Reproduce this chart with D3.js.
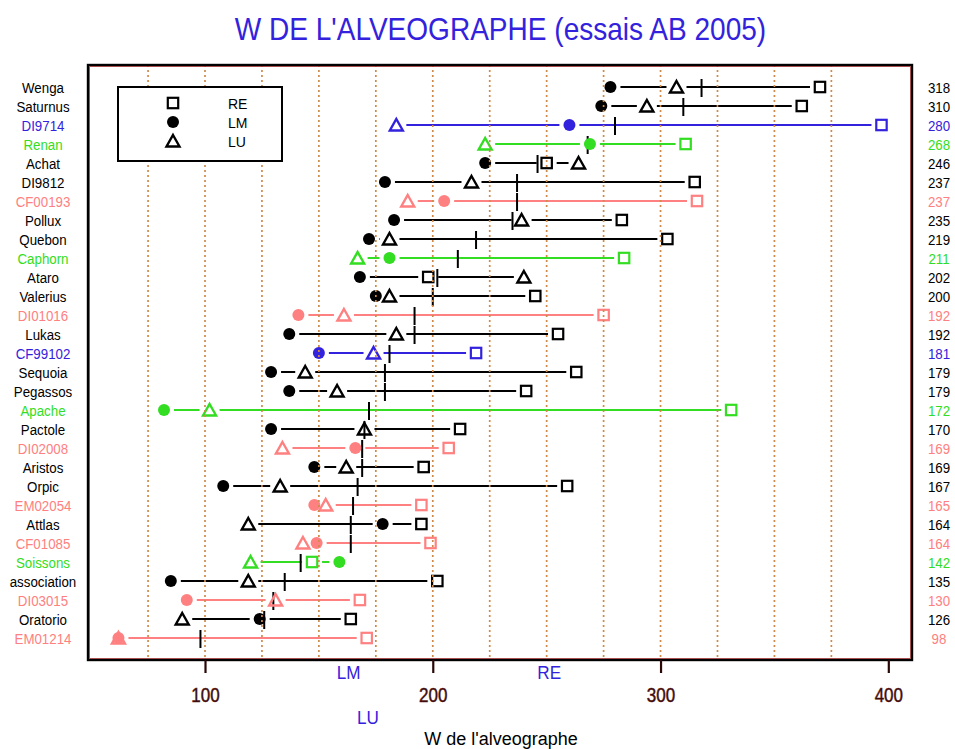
<!DOCTYPE html>
<html>
<head>
<meta charset="utf-8">
<script src="https://cdn.jsdelivr.net/npm/d3@7"></script>
<style>
  html, body { margin: 0; padding: 0; background: #fff; }
  svg { display: block; font-family: "Liberation Sans", Arial, sans-serif; }
</style>
</head>
<body>
<svg id="chart" width="955" height="749"></svg>
<script>
// ---------------- DATA ----------------
const varieties = ["Wenga","Saturnus","DI9714","Renan","Achat","DI9812","CF00193","Pollux","Quebon","Caphorn","Ataro","Valerius","DI01016","Lukas","CF99102","Sequoia","Pegassos","Apache","Pactole","DI02008","Aristos","Orpic","EM02054","Attlas","CF01085","Soissons","association","DI03015","Oratorio","EM01214"];
const groups = ["k","k","b","g","k","k","p","k","k","g","k","k","p","k","b","k","k","g","k","p","k","k","p","k","p","g","k","p","k","p"];
const LM = [278,274,260,269,223,179,205,183,172,181,168,175,141,137,150,129,137,82,129,166,148,108,148,178,149,159,85,92,124,62];
const LU = [307,294,184,223,264,217,189,239,181,167,240,181,161,184,174,144,158,102,170,134,162,133,153,119,143,120,119,131,90,62];
const RE = [370,362,397,311,250,315,316,283,303,284,198,245,275,255,219,263,241,331,212,207,196,259,195,195,199,147,202,168,164,171];
const meanW = [318,310,280,268,246,237,237,235,219,211,202,200,192,192,181,179,179,172,170,169,169,167,165,164,164,142,135,130,126,98];
const xTickValues = [100,200,300,400];
const gridValues = [75,100,125,150,175,200,225,250,275,300,325,350,375];
const methods = ["RE","LM","LU"];
const methodLabelRow = {LM:0, RE:0, LU:1};

// ---------------- STYLE ----------------
const colors = {k:"#000000", b:"#3322dd", g:"#33dd22", p:"#ff8080"};
const titleBlue = "#3322dd";
const plot = {left:88, right:912, top:65, bottom:660};

const svg = d3.select("#chart");

function condense(sel, k) {
  sel.each(function() {
    const w = this.getComputedTextLength();
    d3.select(this).attr("textLength", w * k).attr("lengthAdjust", "spacingAndGlyphs");
  });
}

const x = d3.scaleLinear().domain([48.63, 410.4]).range([plot.left, plot.right]);
const y = d3.scalePoint().domain(varieties).range([87, 638]);

const rows = varieties.map((v, i) => ({
  name: v, color: colors[groups[i]], LM: LM[i], LU: LU[i], RE: RE[i], mean: meanW[i]
}));

// Title
svg.append("text")
  .attr("x", 500.5).attr("y", 39.5)
  .attr("text-anchor", "middle")
  .attr("font-size", 32)
  .attr("fill", titleBlue)
  .text("W DE L'ALVEOGRAPHE (essais AB 2005)")
  .call(condense, 0.876);

const g = svg.append("g");

// Range lines with gaps around markers
const GAP = 10;
rows.forEach(r => {
  const vals = [r.LM, r.LU, r.RE].sort((a, b) => a - b);
  for (let j = 0; j < 2; j++) {
    const x1 = x(vals[j]) + GAP, x2 = x(vals[j + 1]) - GAP;
    if (x2 > x1) {
      g.append("line")
        .attr("x1", x1).attr("x2", x2)
        .attr("y1", y(r.name)).attr("y2", y(r.name))
        .attr("stroke", r.color).attr("stroke-width", 2);
    }
  }
});

// Mean ticks
g.selectAll("line.mean").data(rows).join("line")
  .attr("class", "mean")
  .attr("x1", d => x(d.mean)).attr("x2", d => x(d.mean))
  .attr("y1", d => y(d.name) - 8).attr("y2", d => y(d.name) + 10)
  .attr("stroke", "#000").attr("stroke-width", 2);

function triPath(cx, cy) {
  return `M${cx},${cy - 6} L${cx + 6.5},${cy + 5.5} L${cx - 6.5},${cy + 5.5} Z`;
}

// Markers: LU triangles
g.selectAll("path.lu").data(rows).join("path")
  .attr("class", "lu")
  .attr("d", d => triPath(x(d.LU), y(d.name)))
  .attr("fill", "none").attr("stroke", d => d.color).attr("stroke-width", 2.4)
  .attr("stroke-linejoin", "miter");

// RE squares
g.selectAll("rect.re").data(rows).join("rect")
  .attr("class", "re")
  .attr("x", d => x(d.RE) - 5.2).attr("y", d => y(d.name) - 5.2)
  .attr("width", 10.4).attr("height", 10.4)
  .attr("fill", "none").attr("stroke", d => d.color).attr("stroke-width", 2.2);

// LM circles
g.selectAll("circle.lm").data(rows).join("circle")
  .attr("class", "lm")
  .attr("cx", d => x(d.LM)).attr("cy", d => y(d.name))
  .attr("r", 6)
  .attr("fill", d => d.color);

// Dotted gridlines (on top)
svg.append("g").selectAll("line").data(gridValues).join("line")
  .attr("x1", d => x(d)).attr("x2", d => x(d))
  .attr("y1", plot.top).attr("y2", plot.bottom)
  .attr("stroke", "#cf8a4a").attr("stroke-width", 1.7)
  .attr("stroke-dasharray", "2,3");

// Left labels
svg.append("g").selectAll("text").data(rows).join("text")
  .attr("x", 43).attr("y", d => y(d.name) + 5.5)
  .attr("text-anchor", "middle")
  .attr("font-size", 14)
  .attr("fill", d => d.color)
  .text(d => d.name)
  .call(condense, 0.95);

// Right labels (mean values)
svg.append("g").selectAll("text").data(rows).join("text")
  .attr("x", 939).attr("y", d => y(d.name) + 5.5)
  .attr("text-anchor", "middle")
  .attr("font-size", 14)
  .attr("fill", d => d.color)
  .text(d => d.mean)
  .call(condense, 0.95);

// Legend
const legend = svg.append("g");
legend.append("rect")
  .attr("x", 118).attr("y", 87).attr("width", 164).attr("height", 74)
  .attr("fill", "#fff").attr("stroke", "#000").attr("stroke-width", 2);
const ly = d3.scalePoint().domain(methods).range([103, 141]);
methods.forEach(m => {
  const cy = ly(m), cx = 173;
  if (m === "RE") {
    legend.append("rect").attr("x", cx - 5.2).attr("y", cy - 5.2).attr("width", 10.4).attr("height", 10.4)
      .attr("fill", "none").attr("stroke", "#000").attr("stroke-width", 2.2);
  } else if (m === "LM") {
    legend.append("circle").attr("cx", cx).attr("cy", cy).attr("r", 6).attr("fill", "#000");
  } else {
    legend.append("path").attr("d", triPath(cx, cy)).attr("fill", "none")
      .attr("stroke", "#000").attr("stroke-width", 2.4);
  }
  legend.append("text").attr("x", 228).attr("y", cy + 5.5)
    .attr("font-size", 14).attr("fill", "#000").text(m);
});

// Frame
svg.append("rect")
  .attr("x", plot.left).attr("y", plot.top)
  .attr("width", plot.right - plot.left).attr("height", plot.bottom - plot.top)
  .attr("fill", "none").attr("stroke", "#000").attr("stroke-width", 2.4);
svg.append("rect")
  .attr("x", plot.left + 1.6).attr("y", plot.top + 1.6)
  .attr("width", plot.right - plot.left - 3.2).attr("height", plot.bottom - plot.top - 3.2)
  .attr("fill", "none").attr("stroke", "#a03030").attr("stroke-width", 0.8);

// X axis
const axis = svg.append("g")
  .attr("transform", `translate(0,${plot.bottom})`)
  .call(d3.axisBottom(x).tickValues(xTickValues).tickSize(13).tickFormat(d3.format("d")));
axis.select(".domain").remove();
axis.selectAll(".tick line").attr("stroke", "#2a0808").attr("stroke-width", 2.2);
axis.selectAll(".tick text")
  .attr("y", 42).attr("dy", null)
  .attr("font-family", "Liberation Sans, Arial, sans-serif")
  .attr("font-size", 20).attr("fill", "#2a0a0a")
  .attr("stroke", "#6a1c1c").attr("stroke-width", 0.5)
  .call(condense, 0.85);

// Method mean labels
const methodData = { LM: LM, RE: RE, LU: LU };
svg.append("g").selectAll("text").data(["LM","RE","LU"]).join("text")
  .attr("x", m => x(d3.mean(methodData[m])))
  .attr("y", m => 678.5 + methodLabelRow[m] * 45)
  .attr("text-anchor", "middle")
  .attr("font-size", 18)
  .attr("fill", titleBlue)
  .text(m => m)
  .call(condense, 0.95);

// Axis title
svg.append("text")
  .attr("x", 501).attr("y", 745)
  .attr("text-anchor", "middle")
  .attr("font-size", 18).attr("fill", "#000")
  .text("W de l'alveographe");
</script>
</body>
</html>
